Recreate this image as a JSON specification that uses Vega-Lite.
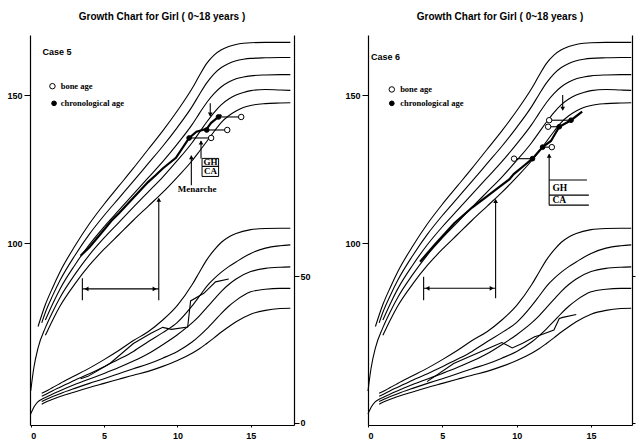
{
"$schema":"https://vega.github.io/schema/vega-lite/v6.json",
"background":"white",
"padding":{"left":0,"right":0,"top":12,"bottom":0},
"bounds":"flush",
"spacing":74,
"config":{"view":{"stroke":null},
"axis":{"domainColor":"black","tickColor":"black","labelColor":"black","labelFont":"Liberation Sans","labelFontSize":9,"labelFontWeight":"bold","grid":false,"domainWidth":1.2,"tickWidth":1},
"title":{"font":"Liberation Sans","fontSize":10,"fontWeight":"bold","color":"black","offset":13,"anchor":"middle"}},
"datasets":{
"hc":[
{"curve":"H1","age":0.5,"v":71.8},{"curve":"H1","age":1,"v":79.2},{"curve":"H1","age":1.5,"v":85.0},{"curve":"H1","age":2,"v":90.3},{"curve":"H1","age":3,"v":98.9},{"curve":"H1","age":4,"v":106.5},{"curve":"H1","age":5,"v":113.1},{"curve":"H1","age":6,"v":119.2},{"curve":"H1","age":7,"v":125.3},{"curve":"H1","age":8,"v":131.6},{"curve":"H1","age":9,"v":137.9},{"curve":"H1","age":10,"v":144.7},{"curve":"H1","age":11,"v":152.2},{"curve":"H1","age":11.5,"v":156.6},{"curve":"H1","age":12,"v":160.7},{"curve":"H1","age":12.5,"v":163.5},{"curve":"H1","age":13,"v":165.3},{"curve":"H1","age":13.5,"v":166.4},{"curve":"H1","age":14,"v":167.1},{"curve":"H1","age":14.5,"v":167.5},{"curve":"H1","age":15,"v":167.7},{"curve":"H1","age":16,"v":167.8},{"curve":"H1","age":17,"v":167.8},{"curve":"H1","age":17.7,"v":167.8},
{"curve":"H2","age":0.75,"v":73.0},{"curve":"H2","age":1,"v":76.6},{"curve":"H2","age":1.5,"v":82.3},{"curve":"H2","age":2,"v":87.4},{"curve":"H2","age":3,"v":95.7},{"curve":"H2","age":4,"v":103.0},{"curve":"H2","age":5,"v":109.3},{"curve":"H2","age":6,"v":115.1},{"curve":"H2","age":7,"v":120.9},{"curve":"H2","age":8,"v":126.8},{"curve":"H2","age":9,"v":132.7},{"curve":"H2","age":10,"v":139.1},{"curve":"H2","age":11,"v":146.1},{"curve":"H2","age":11.5,"v":150.2},{"curve":"H2","age":12,"v":154.1},{"curve":"H2","age":12.5,"v":157.2},{"curve":"H2","age":13,"v":159.3},{"curve":"H2","age":13.5,"v":160.7},{"curve":"H2","age":14,"v":161.6},{"curve":"H2","age":14.5,"v":162.1},{"curve":"H2","age":15,"v":162.4},{"curve":"H2","age":16,"v":162.6},{"curve":"H2","age":17,"v":162.7},{"curve":"H2","age":17.7,"v":162.7},
{"curve":"H3","age":1,"v":74.0},{"curve":"H3","age":1.5,"v":79.5},{"curve":"H3","age":2,"v":84.5},{"curve":"H3","age":3,"v":92.5},{"curve":"H3","age":4,"v":99.5},{"curve":"H3","age":5,"v":105.5},{"curve":"H3","age":6,"v":111.0},{"curve":"H3","age":7,"v":116.5},{"curve":"H3","age":8,"v":122.0},{"curve":"H3","age":9,"v":127.5},{"curve":"H3","age":10,"v":133.5},{"curve":"H3","age":11,"v":140.0},{"curve":"H3","age":11.5,"v":143.8},{"curve":"H3","age":12,"v":147.5},{"curve":"H3","age":12.5,"v":150.5},{"curve":"H3","age":13,"v":152.8},{"curve":"H3","age":13.5,"v":154.4},{"curve":"H3","age":14,"v":155.5},{"curve":"H3","age":14.5,"v":156.1},{"curve":"H3","age":15,"v":156.5},{"curve":"H3","age":16,"v":156.8},{"curve":"H3","age":17,"v":156.9},{"curve":"H3","age":17.7,"v":156.9},
{"curve":"H4","age":0,"v":50.0},{"curve":"H4","age":0.2,"v":57.5},{"curve":"H4","age":0.5,"v":64.6},{"curve":"H4","age":1,"v":71.4},{"curve":"H4","age":1.5,"v":76.8},{"curve":"H4","age":2,"v":81.6},{"curve":"H4","age":3,"v":89.3},{"curve":"H4","age":4,"v":96.0},{"curve":"H4","age":5,"v":101.7},{"curve":"H4","age":6,"v":106.9},{"curve":"H4","age":7,"v":112.1},{"curve":"H4","age":8,"v":117.2},{"curve":"H4","age":9,"v":122.3},{"curve":"H4","age":10,"v":127.9},{"curve":"H4","age":11,"v":133.9},{"curve":"H4","age":11.5,"v":137.4},{"curve":"H4","age":12,"v":140.9},{"curve":"H4","age":12.5,"v":144.1},{"curve":"H4","age":13,"v":146.8},{"curve":"H4","age":13.5,"v":148.7},{"curve":"H4","age":14,"v":150.0},{"curve":"H4","age":14.5,"v":150.9},{"curve":"H4","age":15,"v":151.5},{"curve":"H4","age":16,"v":151.9},{"curve":"H4","age":17,"v":151.7},{"curve":"H4","age":17.7,"v":151.6},
{"curve":"H5","age":1,"v":68.8},{"curve":"H5","age":1.5,"v":74.0},{"curve":"H5","age":2,"v":78.7},{"curve":"H5","age":3,"v":86.1},{"curve":"H5","age":4,"v":92.5},{"curve":"H5","age":5,"v":97.9},{"curve":"H5","age":6,"v":102.8},{"curve":"H5","age":7,"v":107.7},{"curve":"H5","age":8,"v":112.4},{"curve":"H5","age":9,"v":117.1},{"curve":"H5","age":10,"v":122.3},{"curve":"H5","age":11,"v":127.8},{"curve":"H5","age":11.5,"v":131.0},{"curve":"H5","age":12,"v":134.3},{"curve":"H5","age":12.5,"v":137.7},{"curve":"H5","age":13,"v":140.8},{"curve":"H5","age":13.5,"v":143.0},{"curve":"H5","age":14,"v":144.6},{"curve":"H5","age":14.5,"v":145.8},{"curve":"H5","age":15,"v":146.5},{"curve":"H5","age":16,"v":147.1},{"curve":"H5","age":17,"v":147.3},{"curve":"H5","age":17.7,"v":147.4}
],
"wc":[
{"curve":"W1","age":0.75,"v":10.0},{"curve":"W1","age":1,"v":10.6},{"curve":"W1","age":1.5,"v":12.0},{"curve":"W1","age":2,"v":13.4},{"curve":"W1","age":3,"v":16.0},{"curve":"W1","age":4,"v":18.6},{"curve":"W1","age":5,"v":21.5},{"curve":"W1","age":6,"v":24.6},{"curve":"W1","age":7,"v":28.0},{"curve":"W1","age":8,"v":31.0},{"curve":"W1","age":9,"v":35.0},{"curve":"W1","age":10,"v":40.0},{"curve":"W1","age":11,"v":47.0},{"curve":"W1","age":11.5,"v":51.3},{"curve":"W1","age":12,"v":55.5},{"curve":"W1","age":12.5,"v":58.8},{"curve":"W1","age":13,"v":61.5},{"curve":"W1","age":13.5,"v":63.3},{"curve":"W1","age":14,"v":64.5},{"curve":"W1","age":15,"v":65.8},{"curve":"W1","age":16,"v":66.2},{"curve":"W1","age":17,"v":66.3},{"curve":"W1","age":17.7,"v":66.3},
{"curve":"W2","age":0.75,"v":9.0},{"curve":"W2","age":1,"v":9.6},{"curve":"W2","age":1.5,"v":10.9},{"curve":"W2","age":2,"v":12.1},{"curve":"W2","age":3,"v":14.5},{"curve":"W2","age":4,"v":16.7},{"curve":"W2","age":5,"v":19.1},{"curve":"W2","age":6,"v":21.6},{"curve":"W2","age":7,"v":24.3},{"curve":"W2","age":8,"v":27.6},{"curve":"W2","age":9,"v":30.7},{"curve":"W2","age":10,"v":34.2},{"curve":"W2","age":11,"v":39.8},{"curve":"W2","age":11.5,"v":43.1},{"curve":"W2","age":12,"v":46.5},{"curve":"W2","age":12.5,"v":49.1},{"curve":"W2","age":13,"v":51.3},{"curve":"W2","age":13.5,"v":53.2},{"curve":"W2","age":14,"v":54.8},{"curve":"W2","age":15,"v":57.7},{"curve":"W2","age":16,"v":59.5},{"curve":"W2","age":17,"v":60.3},{"curve":"W2","age":17.7,"v":60.6},
{"curve":"W3","age":0,"v":3.0},{"curve":"W3","age":0.25,"v":5.6},{"curve":"W3","age":0.5,"v":7.2},{"curve":"W3","age":0.75,"v":8.0},{"curve":"W3","age":1,"v":8.6},{"curve":"W3","age":1.5,"v":9.8},{"curve":"W3","age":2,"v":10.9},{"curve":"W3","age":3,"v":13.0},{"curve":"W3","age":4,"v":14.9},{"curve":"W3","age":5,"v":16.8},{"curve":"W3","age":6,"v":18.8},{"curve":"W3","age":7,"v":21.0},{"curve":"W3","age":8,"v":23.5},{"curve":"W3","age":9,"v":26.6},{"curve":"W3","age":10,"v":30.0},{"curve":"W3","age":11,"v":34.0},{"curve":"W3","age":11.5,"v":36.4},{"curve":"W3","age":12,"v":39.2},{"curve":"W3","age":12.5,"v":42.0},{"curve":"W3","age":13,"v":44.8},{"curve":"W3","age":13.5,"v":47.1},{"curve":"W3","age":14,"v":49.0},{"curve":"W3","age":15,"v":51.5},{"curve":"W3","age":16,"v":52.6},{"curve":"W3","age":17,"v":53.0},{"curve":"W3","age":17.7,"v":53.1},
{"curve":"W4","age":0.75,"v":7.2},{"curve":"W4","age":1,"v":7.8},{"curve":"W4","age":1.5,"v":8.9},{"curve":"W4","age":2,"v":9.9},{"curve":"W4","age":3,"v":11.7},{"curve":"W4","age":4,"v":13.4},{"curve":"W4","age":5,"v":15.0},{"curve":"W4","age":6,"v":16.7},{"curve":"W4","age":7,"v":18.4},{"curve":"W4","age":8,"v":20.0},{"curve":"W4","age":9,"v":22.0},{"curve":"W4","age":10,"v":24.3},{"curve":"W4","age":11,"v":27.5},{"curve":"W4","age":11.5,"v":29.6},{"curve":"W4","age":12,"v":32.0},{"curve":"W4","age":12.5,"v":34.6},{"curve":"W4","age":13,"v":37.3},{"curve":"W4","age":13.5,"v":39.7},{"curve":"W4","age":14,"v":41.7},{"curve":"W4","age":15,"v":44.6},{"curve":"W4","age":16,"v":45.5},{"curve":"W4","age":17,"v":45.8},{"curve":"W4","age":17.7,"v":45.8},
{"curve":"W5","age":0.75,"v":6.3},{"curve":"W5","age":1,"v":7.0},{"curve":"W5","age":1.5,"v":8.0},{"curve":"W5","age":2,"v":8.9},{"curve":"W5","age":3,"v":10.5},{"curve":"W5","age":4,"v":12.0},{"curve":"W5","age":5,"v":13.4},{"curve":"W5","age":6,"v":14.8},{"curve":"W5","age":7,"v":16.2},{"curve":"W5","age":8,"v":17.5},{"curve":"W5","age":9,"v":19.2},{"curve":"W5","age":10,"v":21.2},{"curve":"W5","age":11,"v":23.7},{"curve":"W5","age":11.5,"v":25.2},{"curve":"W5","age":12,"v":27.0},{"curve":"W5","age":12.5,"v":28.9},{"curve":"W5","age":13,"v":30.9},{"curve":"W5","age":13.5,"v":32.7},{"curve":"W5","age":14,"v":34.4},{"curve":"W5","age":15,"v":37.0},{"curve":"W5","age":16,"v":38.3},{"curve":"W5","age":17,"v":38.9},{"curve":"W5","age":17.7,"v":39.0}
],
"ph5":[{"age":3.4,"v":95.7},{"age":4.0,"v":98.6},{"age":5.0,"v":104.5},{"age":5.5,"v":107.5},{"age":6.0,"v":110.0},{"age":7.0,"v":115.3},{"age":8.0,"v":120.6},{"age":8.5,"v":122.8},{"age":9.0,"v":125.2},{"age":9.9,"v":128.8},{"age":10.8,"v":135.5},{"age":11.3,"v":137.6},{"age":12.0,"v":138.6},{"age":12.3,"v":140.6},{"age":12.8,"v":142.6},{"age":13.0,"v":143.3}],
"ph6":[{"age":3.5,"v":93.7},{"age":4.5,"v":99.5},{"age":5.8,"v":106.7},{"age":7.0,"v":112.0},{"age":8.0,"v":115.8},{"age":8.9,"v":119.2},{"age":9.5,"v":121.5},{"age":9.8,"v":123.3},{"age":10.5,"v":126.2},{"age":11.06,"v":128.5},{"age":11.74,"v":132.4},{"age":12.3,"v":134.5},{"age":12.86,"v":139.3},{"age":13.65,"v":141.5},{"age":14.4,"v":144.4}],
"pw5":[{"age":3.4,"v":15.0},{"age":3.9,"v":15.8},{"age":5.4,"v":20.2},{"age":7.0,"v":27.0},{"age":8.2,"v":30.5},{"age":9.0,"v":32.5},{"age":9.6,"v":31.8},{"age":10.7,"v":32.6},{"age":10.9,"v":41.5},{"age":11.8,"v":44.1},{"age":12.6,"v":48.0},{"age":13.5,"v":49.0}],
"pw6":[{"age":3.97,"v":14.0},{"age":5.76,"v":20.2},{"age":7.57,"v":24.2},{"age":8.5,"v":26.2},{"age":9.0,"v":27.3},{"age":9.7,"v":25.5},{"age":10.4,"v":27.1},{"age":11.2,"v":29.3},{"age":11.6,"v":29.9},{"age":12.5,"v":31.6},{"age":12.86,"v":35.5},{"age":13.1,"v":35.9},{"age":14.0,"v":36.9}],
"rules5":[{"age":8.73,"v":80.7,"age2":8.73,"v2":115.0},{"age":3.52,"v":80.7,"age2":3.52,"v2":88.1},{"age":3.52,"v":84.5,"age2":8.73,"v2":84.5},{"age":12.24,"v":147.2,"age2":12.24,"v2":143.0},{"age":11.61,"v":128.6,"age2":11.61,"v2":134.5},{"age":10.95,"v":119.5,"age2":10.95,"v2":129.5},{"age":10.8,"v":135.5,"age2":12.3,"v2":135.5},{"age":12.0,"v":138.2,"age2":13.4,"v2":138.2},{"age":12.8,"v":142.6,"age2":14.35,"v2":142.6}],
"rules6":[{"age":8.58,"v":81.3,"age2":8.58,"v2":114.6},{"age":3.74,"v":80.7,"age2":3.74,"v2":88.6},{"age":3.74,"v":84.7,"age2":8.58,"v2":84.7},{"age":13.09,"v":150.0,"age2":13.09,"v2":145.0},{"age":12.18,"v":112.8,"age2":12.18,"v2":130.0},{"age":12.18,"v":121.3,"age2":14.72,"v2":121.3},{"age":12.18,"v":116.2,"age2":14.85,"v2":116.2},{"age":12.18,"v":112.8,"age2":14.85,"v2":112.8},{"age":12.18,"v":141.5,"age2":13.65,"v2":141.5},{"age":12.11,"v":139.3,"age2":12.86,"v2":139.3},{"age":9.82,"v":128.5,"age2":11.06,"v2":128.5},{"age":11.74,"v":132.4,"age2":12.36,"v2":132.4}],
"rects5":[{"age":11.68,"age2":12.81,"v":125.9,"v2":128.6},{"age":11.68,"age2":12.81,"v":122.5,"v2":125.9}],
"arrows5":[{"age":8.73,"v":114.6,"shape":"triangle-up"},{"age":3.8,"v":84.5,"shape":"triangle-left"},{"age":8.45,"v":84.5,"shape":"triangle-right"},{"age":12.24,"v":143.4,"shape":"triangle-down"},{"age":11.61,"v":134.0,"shape":"triangle-up"},{"age":10.95,"v":129.0,"shape":"triangle-up"}],
"arrows6":[{"age":8.58,"v":114.2,"shape":"triangle-up"},{"age":4.0,"v":84.7,"shape":"triangle-left"},{"age":8.32,"v":84.7,"shape":"triangle-right"},{"age":13.09,"v":145.4,"shape":"triangle-down"},{"age":12.18,"v":129.5,"shape":"triangle-up"}],
"dots5":[{"age":10.8,"v":135.5,"kind":"ca"},{"age":12.0,"v":138.2,"kind":"ca"},{"age":12.8,"v":142.6,"kind":"ca"},{"age":12.3,"v":135.5,"kind":"ba"},{"age":13.4,"v":138.2,"kind":"ba"},{"age":14.35,"v":142.6,"kind":"ba"},{"age":1.48,"v":153.0,"kind":"ba"},{"age":1.59,"v":147.2,"kind":"ca"}],
"dots6":[{"age":13.65,"v":141.5,"kind":"ca"},{"age":12.86,"v":139.3,"kind":"ca"},{"age":11.06,"v":128.5,"kind":"ca"},{"age":11.74,"v":132.4,"kind":"ca"},{"age":12.18,"v":141.5,"kind":"ba"},{"age":12.11,"v":139.3,"kind":"ba"},{"age":9.82,"v":128.5,"kind":"ba"},{"age":12.36,"v":132.4,"kind":"ba"},{"age":1.6,"v":151.9,"kind":"ba"},{"age":1.6,"v":147.2,"kind":"ca"}],
"txt5":[{"g":"case","age":0.8,"v":164.6,"label":"Case 5"},{"g":"leg","age":2.04,"v":153.0,"label":"bone age"},{"g":"leg","age":2.04,"v":147.2,"label":"chronological age"},{"g":"box","age":12.25,"v":127.3,"label":"GH"},{"g":"box","age":12.25,"v":124.2,"label":"CA"},{"g":"box","age":11.34,"v":118.1,"label":"Menarche"}],
"txt6":[{"g":"case","age":0.2,"v":163.0,"label":"Case 6"},{"g":"leg","age":2.16,"v":151.9,"label":"bone age"},{"g":"leg","age":2.16,"v":147.2,"label":"chronological age"},{"g":"gl","age":12.4,"v":118.7,"label":"GH"},{"g":"gl","age":12.4,"v":114.4,"label":"CA"}]
},
"hconcat":[
{"width":264,"height":390,
"title":{"text":"Growth Chart for Girl ( 0~18 years )"},
"resolve":{"scale":{"y":"independent"}},
"encoding":{"x":{"field":"age","type":"quantitative","scale":{"domain":[-0.05,17.95],"nice":false,"zero":false},"axis":{"values":[0,5,10,15],"title":null,"tickSize":2,"labelPadding":4,"format":"d"}}},
"layer":[
{"encoding":{"y":{"field":"v","type":"quantitative","scale":{"domain":[38.5,170.3],"nice":false,"zero":false},"axis":{"orient":"left","values":[100,150],"title":null,"tickSize":6,"labelPadding":2,"minExtent":30,"maxExtent":30}}},
"layer":[
{"data":{"name":"hc"},"mark":{"type":"line","color":"black","strokeWidth":1.1,"interpolate":"monotone"},"encoding":{"detail":{"field":"curve"}}},
{"data":{"name":"ph5"},"mark":{"type":"line","color":"black","strokeWidth":2.2},"encoding":{}},
{"data":{"name":"rules5"},"mark":{"type":"rule","color":"black","strokeWidth":1.1},"encoding":{"x2":{"field":"age2"},"y2":{"field":"v2"}}},
{"data":{"name":"rects5"},"mark":{"type":"rect","filled":false,"color":"black","strokeWidth":1},"encoding":{"x2":{"field":"age2"},"y2":{"field":"v2"}}},
{"data":{"name":"arrows5"},"mark":{"type":"point","filled":true,"color":"black","opacity":1,"size":22},"encoding":{"shape":{"field":"shape","type":"nominal","scale":null}}},
{"data":{"name":"dots5"},"mark":{"type":"point","filled":true,"stroke":"black","strokeWidth":1,"opacity":1},"encoding":{"fill":{"field":"kind","type":"nominal","scale":{"domain":["ba","ca"],"range":["white","black"]},"legend":null},"size":{"field":"kind","type":"nominal","scale":{"domain":["ba","ca"],"range":[30,22]},"legend":null}}},
{"data":{"name":"txt5"},"transform":[{"filter":"datum.g == 'case'"}],"mark":{"type":"text","align":"left","baseline":"middle","font":"Liberation Sans","fontWeight":"bold","fontSize":9,"color":"black"},"encoding":{"text":{"field":"label"}}},
{"data":{"name":"txt5"},"transform":[{"filter":"datum.g == 'leg'"}],"mark":{"type":"text","align":"left","baseline":"middle","font":"Liberation Serif","fontWeight":"bold","fontSize":8.5,"color":"black"},"encoding":{"text":{"field":"label"}}},
{"data":{"name":"txt5"},"transform":[{"filter":"datum.g == 'box'"}],"mark":{"type":"text","align":"center","baseline":"middle","font":"Liberation Serif","fontWeight":"bold","fontSize":9,"color":"black"},"encoding":{"text":{"field":"label"}}}
]},
{"encoding":{"y":{"field":"v","type":"quantitative","scale":{"domain":[-0.78,132.14],"nice":false,"zero":false},"axis":{"orient":"right","values":[0,50],"title":null,"tickSize":5,"labelPadding":1}}},
"layer":[
{"data":{"name":"wc"},"mark":{"type":"line","color":"black","strokeWidth":1.1,"interpolate":"monotone"},"encoding":{"detail":{"field":"curve"}}},
{"data":{"name":"pw5"},"mark":{"type":"line","color":"black","strokeWidth":1.1},"encoding":{}}
]}
]},
{"width":264,"height":390,
"title":{"text":"Growth Chart for Girl ( 0~18 years )"},
"resolve":{"scale":{"y":"independent"}},
"encoding":{"x":{"field":"age","type":"quantitative","scale":{"domain":[0,17.75],"nice":false,"zero":false},"axis":{"values":[0,5,10,15],"title":null,"tickSize":2,"labelPadding":4,"format":"d"}}},
"layer":[
{"encoding":{"y":{"field":"v","type":"quantitative","scale":{"domain":[38.5,170.3],"nice":false,"zero":false},"axis":{"orient":"left","values":[100,150],"title":null,"tickSize":6,"labelPadding":2,"minExtent":30,"maxExtent":30}}},
"layer":[
{"data":{"name":"hc"},"mark":{"type":"line","color":"black","strokeWidth":1.1,"interpolate":"monotone"},"encoding":{"detail":{"field":"curve"}}},
{"data":{"name":"ph6"},"mark":{"type":"line","color":"black","strokeWidth":2.2},"encoding":{}},
{"data":{"name":"rules6"},"mark":{"type":"rule","color":"black","strokeWidth":1.1},"encoding":{"x2":{"field":"age2"},"y2":{"field":"v2"}}},
{"data":{"name":"arrows6"},"mark":{"type":"point","filled":true,"color":"black","opacity":1,"size":22},"encoding":{"shape":{"field":"shape","type":"nominal","scale":null}}},
{"data":{"name":"dots6"},"mark":{"type":"point","filled":true,"stroke":"black","strokeWidth":1,"opacity":1},"encoding":{"fill":{"field":"kind","type":"nominal","scale":{"domain":["ba","ca"],"range":["white","black"]},"legend":null},"size":{"field":"kind","type":"nominal","scale":{"domain":["ba","ca"],"range":[30,22]},"legend":null}}},
{"data":{"name":"txt6"},"transform":[{"filter":"datum.g == 'case'"}],"mark":{"type":"text","align":"left","baseline":"middle","font":"Liberation Sans","fontWeight":"bold","fontSize":9,"color":"black"},"encoding":{"text":{"field":"label"}}},
{"data":{"name":"txt6"},"transform":[{"filter":"datum.g == 'leg'"}],"mark":{"type":"text","align":"left","baseline":"middle","font":"Liberation Serif","fontWeight":"bold","fontSize":8.5,"color":"black"},"encoding":{"text":{"field":"label"}}},
{"data":{"name":"txt6"},"transform":[{"filter":"datum.g == 'gl'"}],"mark":{"type":"text","align":"left","baseline":"middle","font":"Liberation Serif","fontWeight":"bold","fontSize":9.5,"color":"black"},"encoding":{"text":{"field":"label"}}}
]},
{"encoding":{"y":{"field":"v","type":"quantitative","scale":{"domain":[-0.78,132.14],"nice":false,"zero":false},"axis":{"orient":"right","values":[0,50],"title":null,"tickSize":3,"labels":false}}},
"layer":[
{"data":{"name":"wc"},"mark":{"type":"line","color":"black","strokeWidth":1.1,"interpolate":"monotone"},"encoding":{"detail":{"field":"curve"}}},
{"data":{"name":"pw6"},"mark":{"type":"line","color":"black","strokeWidth":1.1},"encoding":{}}
]}
]}
]
}
